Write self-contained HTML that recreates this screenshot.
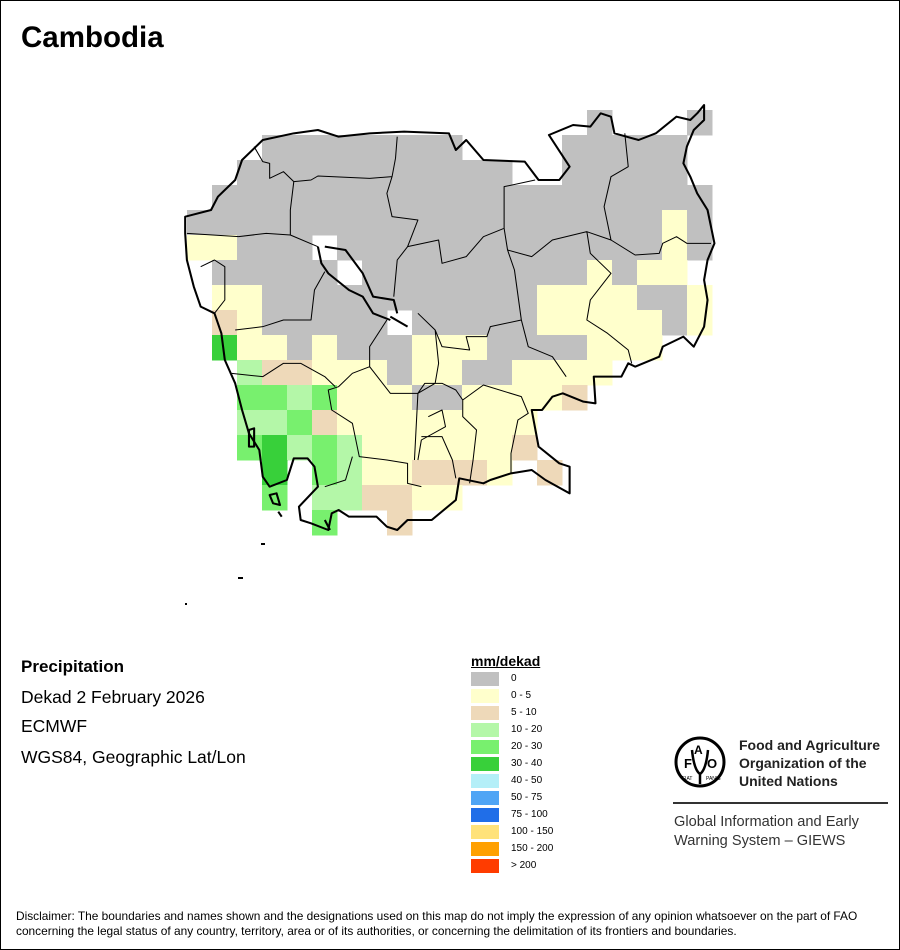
<!DOCTYPE html>
<html><head><meta charset="utf-8"><style>
html,body{margin:0;padding:0;background:#fff}
#p{position:relative;width:898px;height:948px;border:1px solid #000;overflow:hidden;font-family:"Liberation Sans",Arial,sans-serif;color:#000}
.t{position:absolute;white-space:nowrap}
</style></head><body><div id="p">
<div class="t" style="left:20px;top:20px;font-size:29.5px;font-weight:bold">Cambodia</div>
<svg id="m" width="900" height="950" style="position:absolute;left:-1px;top:-1px">
<g id="grid"></g>
<g transform="translate(180,100) scale(0.3448,0.33333)" fill="none" stroke="#000" stroke-linejoin="round">
<path stroke-width="6" d="M15,350 L90,330 110,290 160,240 180,180 220,140 240,120 330,100 400,90 460,110 550,100 650,95 780,100 800,150 830,120 880,180 1000,185 1040,240 1100,240 1130,200 1070,105 1140,75 1190,80 1220,40 1250,50 1260,100 1330,120 1380,100 1440,50 1480,60 1500,40 1520,15 1520,60 1490,90 1470,140 1460,190 1480,230 1500,280 1530,330 1550,430 1530,480 1520,540 1530,600 1520,680 1490,740 1460,710 1400,740 1390,770 1320,800 1300,790 1280,830 1200,830 1205,910 1170,905 1110,880 1080,890 1050,930 1020,930 1040,1040 1100,1090 1130,1100 1130,1180 1060,1140 1020,1110 960,1120 900,1140 880,1150 810,1135 800,1200 730,1260 660,1260 630,1290 600,1280 570,1250 490,1250 460,1230 440,1240 430,1290 380,1270 350,1260 345,1220 400,1160 390,1100 370,1075 330,1075 310,1140 260,1160 240,1130 230,1050 200,1000 180,930 160,850 130,780 120,700 100,640 60,620 40,560 20,480 15,400 Z"/>
<path stroke-width="6" d="M400,440 L410,490 430,520 490,570 530,590 560,640 610,660 M420,440 L480,450 530,520 560,590 620,600 630,640 M610,650 L660,680"/>
<path stroke-width="6" d="M200,990 L215,985 215,1040 200,1040 Z M260,1185 L280,1180 290,1215 270,1210 Z M285,1235 L295,1250 M420,1260 L435,1290"/>
<path stroke-width="3" d="M215,140 L240,185 260,190 260,235 300,215 330,245 380,240 400,228 550,235 615,230 625,175 630,110 M330,245 L320,330 320,405 M615,230 L600,280 615,350 690,360 660,440 630,480 620,590 M20,400 L170,410 250,400 320,405 400,440 M660,440 L750,420 760,490 830,470 880,410 940,385 M940,385 L940,260 1030,240 M940,385 L950,450 1020,470 1080,420 1180,395 1250,420 1320,465 1390,460 1400,430 1440,410 1470,430 1540,430 M1180,395 L1190,460 1250,520 1190,600 1180,660 1240,700 1300,750 1310,790 M1250,420 L1230,320 1250,230 1300,200 1290,100 M950,450 L970,510 990,660 1010,740 1080,770 1120,830 M990,660 L900,680 890,710 830,710 840,750 760,740 740,690 690,640 M420,515 L390,570 380,660 300,660 240,680 160,690 M100,640 L130,600 130,500 100,480 60,500 M600,660 L550,740 550,800 610,880 690,880 710,850 760,850 800,870 820,900 M550,800 L500,820 460,860 430,870 440,930 500,970 520,1070 600,1080 660,1090 660,1150 700,1160 M150,820 L240,830 300,790 350,790 420,830 450,860 M740,690 L750,790 740,850 690,880 M690,880 L680,1080 M820,900 L880,855 990,890 1010,940 980,960 960,1060 960,1120 M820,900 L820,950 860,990 850,1080 840,1150 M700,1010 L760,1010 790,1080 800,1135 M720,950 L760,930 770,980 700,1020 690,1080 M500,1070 L480,1140 420,1160"/>
</g>
<rect x="185" y="603" width="2" height="2" fill="#000"/><rect x="238" y="577" width="5" height="2" fill="#000"/><rect x="261" y="543" width="4" height="2" fill="#000"/>
</svg>
<div class="t" style="left:20px;top:656px;font-size:17px;font-weight:bold">Precipitation</div>
<div class="t" style="left:20px;top:686px;font-size:17.5px">Dekad 2 February 2026</div>
<div class="t" style="left:20px;top:715px;font-size:17.5px">ECMWF</div>
<div class="t" style="left:20px;top:746px;font-size:17.5px">WGS84, Geographic Lat/Lon</div>
<div class="t" style="left:470px;top:652px;font-size:14px;font-weight:bold;text-decoration:underline">mm/dekad</div>
<div id="leg"></div>
<svg width="60" height="60" style="position:absolute;left:669px;top:731px" viewBox="0 0 60 60">
<circle cx="30" cy="30" r="24" fill="none" stroke="#000" stroke-width="3"/>
<text x="14" y="36" font-size="13" font-weight="bold" font-family="Liberation Sans">F</text>
<text x="24" y="22" font-size="12" font-weight="bold" font-family="Liberation Sans">A</text>
<text x="37" y="36" font-size="13" font-weight="bold" font-family="Liberation Sans">O</text>
<path d="M22,18 Q24,38 30,42 Q36,38 38,18" fill="none" stroke="#000" stroke-width="2.5"/>
<path d="M30,42 L30,52" stroke="#000" stroke-width="2.5"/>
<text x="12" y="48" font-size="5" font-family="Liberation Sans">FIAT</text><text x="36" y="48" font-size="5" font-family="Liberation Sans">PANIS</text>
</svg>
<div class="t" style="left:738px;top:735px;font-size:14px;font-weight:bold;line-height:18px;color:#222">Food and Agriculture<br>Organization of the<br>United Nations</div>
<div style="position:absolute;left:672px;top:801px;width:215px;height:2px;background:#333"></div>
<div class="t" style="left:673px;top:812px;font-size:14.6px;line-height:19px;color:#333">Global Information and Early<br>Warning System – GIEWS</div>
<div class="t" style="left:15px;top:908px;font-size:11.9px;line-height:15px">Disclaimer: The boundaries and names shown and the designations used on this map do not imply the expression of any opinion whatsoever on the part of FAO<br>concerning the legal status of any country, territory, area or of its authorities, or concerning the delimitation of its frontiers and boundaries.</div>
</div>
<script>
var C={G:'#c0c0c0',Y:'#ffffcc',T:'#eed9b9',L:'#b4f7a8',M:'#78f06e',D:'#38d03a'};
var rows=[
"................G...G",
"...GGGGGGGG....GGGGG.",
"..GGGGGGGGGGG..GGGGG.",
".GGGGGGGGGGGGGGGGGGGG",
"GGGGGGGGGGGGGGGGGGGYG",
"YYGGG.GGGGGGGGGGGGGYG",
".GGGGG.GGGGGGGGGYGYY.",
".YYGGGGGGGGGGGYYYYGGY",
".TYGGGGG.GGGGGYYYYYGY",
".DYYGYGGGYYYGGGGYYY..",
"..LTTYYYGYYGGYYYY....",
"..MMLMYYYGGYYYYT.....",
"..LLMTYYYYYYYY.......",
"..MDLMLYYYYYYT.......",
"...D.MLYYTTTY.T......",
"...M.LLTTYY..........",
".....M..T............"];
var g='';for(var r=0;r<rows.length;r++)for(var c=0;c<rows[r].length;c++){var k=rows[r][c];if(C[k]){var x=187+c*25,y=110+r*25;g+='<rect x="'+x+'" y="'+y+'" width="25.5" height="25.5" fill="'+C[k]+'"/>';}}
document.getElementById('grid').innerHTML=g;
var L=[['#c0c0c0','0'],['#ffffcc','0 - 5'],['#eed9b9','5 - 10'],['#b4f7a8','10 - 20'],['#78f06e','20 - 30'],['#38d03a','30 - 40'],['#b4eff8','40 - 50'],['#50a5f5','50 - 75'],['#206ee8','75 - 100'],['#ffe27a','100 - 150'],['#ffa000','150 - 200'],['#ff3c00','> 200']];
var h='';for(var i=0;i<L.length;i++){var y=671+i*17;h+='<div style="position:absolute;left:470px;top:'+y+'px;width:28px;height:14px;background:'+L[i][0]+'"></div><div class="t" style="left:510px;top:'+(y+1)+'px;font-size:10px">'+L[i][1]+'</div>';}
document.getElementById('leg').innerHTML=h;
</script>
</body></html>
